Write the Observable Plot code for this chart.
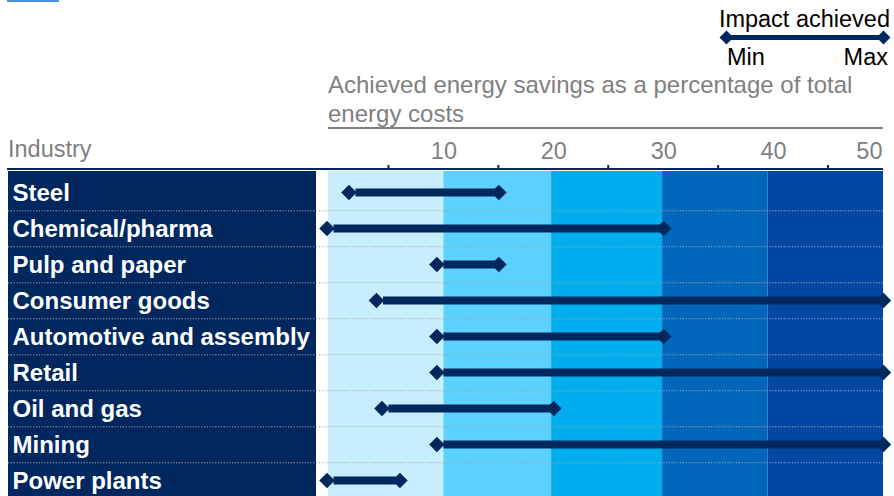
<!DOCTYPE html>
<html><head><meta charset="utf-8">
<script src="https://cdn.jsdelivr.net/npm/d3@7"></script>
<script src="https://cdn.jsdelivr.net/npm/@observablehq/plot@0.6"></script>
<style>
html,body{margin:0;padding:0;background:#fff;}
#root{position:relative;width:894px;height:496px;overflow:hidden;font-family:"Liberation Sans",Arial,sans-serif;}
#root svg{position:absolute;}
.t{position:absolute;white-space:nowrap;font-size:23.5px;line-height:25px;}
</style></head><body><div id="root"></div>
<script>
const industries = ["Steel","Chemical/pharma","Pulp and paper","Consumer goods","Automotive and assembly","Retail","Oil and gas","Mining","Power plants"];
const minSavings = [2, 0, 10, 4.5, 10, 10, 5, 10, 0];
const maxSavings = [15, 30, 15, 50, 30, 50, 20, 50, 6];
const tickLabels = [10, 20, 30, 40, 50];
const minorTicks = [5, 15, 25, 35, 45];
const bandEdges = [-0.5, 10, 19.8, 29.9, 39.5, 50];
const bandColors = ["#c8eefd", "#5cd1fd", "#00aeef", "#0066b9", "#0047a1"];
const legendTitle = "Impact achieved";
const legendEnds = ["Min", "Max"];
const subtitleLines = ["Achieved energy savings as a percentage of total", "energy costs"];
const columnHeader = "Industry";

const navy = "#00285f";
const grey = "#808080";

const rows = industries.map((name, i) => ({name, min: minSavings[i], max: maxSavings[i]}));
const bands = bandColors.map((c, i) => ({x1: bandEdges[i], x2: bandEdges[i + 1], fill: c}));

const W = 894, H = 370, MT = 41, MB = 0;
const bw = (H - MT - MB) / industries.length;

function labelColumn(index, scales, values, dims) {
  const g = d3.create("svg:g");
  const xLeft = scales.x(bandEdges[0]);
  g.append("rect")
    .attr("x", dims.marginLeft).attr("y", dims.marginTop)
    .attr("width", xLeft - 12 - dims.marginLeft)
    .attr("height", dims.height - dims.marginTop - dims.marginBottom)
    .attr("fill", navy);
  return g.node();
}
function axisDecor(index, scales, values, dims) {
  const g = d3.create("svg:g");
  g.append("line")
    .attr("x1", dims.marginLeft - 1).attr("x2", dims.width - dims.marginRight)
    .attr("y1", dims.marginTop - 2).attr("y2", dims.marginTop - 2)
    .attr("stroke", navy).attr("stroke-width", 2);
  for (const t of minorTicks) {
    g.append("line")
      .attr("x1", scales.x(t)).attr("x2", scales.x(t))
      .attr("y1", dims.marginTop - 6).attr("y2", dims.marginTop - 3)
      .attr("stroke", navy).attr("stroke-width", 2);
  }
  return g.node();
}

const chart = Plot.plot({
  width: W, height: H,
  marginTop: MT, marginBottom: MB, marginLeft: 8, marginRight: 11,
  style: {fontFamily: '"Liberation Sans", Arial, sans-serif', background: "transparent"},
  x: {domain: [bandEdges[0], 50], range: [328, 883], axis: null},
  y: {type: "band", domain: industries, padding: 0, axis: null},
  color: {type: "identity"},
  marks: [
    Plot.rect(bands, {x1: "x1", x2: "x2", fill: "fill"}),
    labelColumn,
    Plot.ruleY(rows.slice(0, -1), {y: "name", dy: bw / 2, stroke: "#a8a8a8", strokeWidth: 1, strokeDasharray: "1.2 1.6"}),
    axisDecor,
    Plot.ruleY(rows, {y: "name", x1: "min", x2: "max", stroke: navy, strokeWidth: 8}),
    Plot.dot(rows, {y: "name", x: "min", symbol: "diamond2", r: 7, fill: navy, dx: -7}),
    Plot.dot(rows, {y: "name", x: "max", symbol: "diamond2", r: 7, fill: navy}),
    Plot.text(rows, {y: "name", text: "name", frameAnchor: "left", textAnchor: "start", dx: 4, dy: 1, fill: "white", fontWeight: "bold", fontSize: 24}),
    Plot.text(tickLabels.slice(0, -1), {x: d => d, text: d => String(d), frameAnchor: "top", lineAnchor: "bottom", dy: -13, fill: grey, fontSize: 23.5}),
    Plot.text(tickLabels.slice(-1), {x: d => d, text: d => String(d), frameAnchor: "top", lineAnchor: "bottom", textAnchor: "end", dy: -13, dx: -1, fill: grey, fontSize: 23.5})
  ]
});

const legend = Plot.plot({
  width: 194, height: 24, margin: 0,
  style: {background: "transparent"},
  x: {type: "point", domain: legendEnds, range: [25.5, 182.5], padding: 0, axis: null},
  y: {type: "point", domain: [legendTitle], axis: null},
  marks: [
    Plot.ruleY([legendTitle], {y: d => d, x1: () => legendEnds[0], x2: () => legendEnds[1], stroke: navy, strokeWidth: 5}),
    Plot.dot(legendEnds, {x: d => d, y: () => legendTitle, symbol: "diamond2", r: 6.3, fill: navy})
  ]
});

const root = document.getElementById("root");
chart.style.left = "0px"; chart.style.top = "130px";
root.appendChild(chart);
legend.style.left = "700px"; legend.style.top = "25px";
root.appendChild(legend);

function addDiv(html, css) {
  const d = document.createElement("div");
  d.className = "t";
  d.innerHTML = html;
  Object.assign(d.style, css);
  root.appendChild(d);
  return d;
}
const topBar = document.createElement("div");
Object.assign(topBar.style, {position: "absolute", left: "7px", top: "0px", width: "52px", height: "2px", background: "#4a90e2"});
root.appendChild(topBar);
addDiv(legendTitle, {right: "4px", top: "7px", color: "#000"});
addDiv(legendEnds[0], {left: "727px", top: "45px", color: "#000"});
addDiv(legendEnds[1], {right: "6px", top: "45px", color: "#000"});
addDiv(subtitleLines.join("<br>"), {left: "328px", top: "70px", color: grey, fontSize: "24px", lineHeight: "29px"});
const rule = document.createElement("div");
Object.assign(rule.style, {position: "absolute", left: "328px", top: "127px", width: "555px", height: "2px", background: "#7f7f7f"});
root.appendChild(rule);
addDiv(columnHeader, {left: "8px", top: "137px", color: grey});
</script>
</body></html>
